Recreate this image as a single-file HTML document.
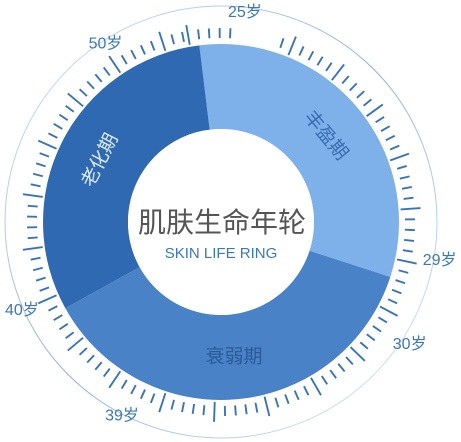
<!DOCTYPE html>
<html><head><meta charset="utf-8">
<style>
html,body{margin:0;padding:0;background:#fff;width:461px;height:442px;overflow:hidden}
svg{display:block}
text{font-family:"Liberation Sans","Noto Sans CJK SC",sans-serif}
</style></head><body>
<svg id="chart" width="461" height="442" viewBox="0 0 461 442">
<defs>
<linearGradient id="arcg" x1="0" y1="0" x2="1" y2="1">
<stop offset="0" stop-color="#c9dcf2"/><stop offset="0.5" stop-color="#5a8fd0"/><stop offset="1" stop-color="#dbe8f7"/>
</linearGradient>
</defs>
<circle cx="221" cy="222" r="216" fill="none" stroke="url(#arcg)" stroke-width="1" opacity="0.7"/>
<g id="ticks"></g>
<g id="segs"></g>
<circle cx="221" cy="222" r="93" fill="#fff"/>
<text x="222" y="232" text-anchor="middle" font-size="28" fill="#555">肌肤生命年轮</text>
<text x="221" y="258" text-anchor="middle" font-size="15" fill="#3a78b8">SKIN LIFE RING</text>
<g id="labels"></g>
</svg>
<script>
const segNames = ["丰盈期","衰弱期","老化期"];
const segSpans = [115, 133, 112];
const segStart = -7;
const segColors = ["#7eb0ea","#4a82c7","#2e69b1"];
const segTextColors = ["#3a6db0","#2a5a9a","#dde9f8"];
const ageLabels = ["25岁","29岁","30岁","39岁","40岁","50岁"];
const ageAngles = [6.5, 100, 123, 207, 246, 327];
const labelRadius = [211, 222, 225, 218, 218, 212];

const cx=221, cy=222, R=178, r=93;
const NS="http://www.w3.org/2000/svg";
function pt(a, rad){const t=a*Math.PI/180;return [cx+rad*Math.sin(t), cy-rad*Math.cos(t)];}

const segG=document.getElementById('segs');
let a0=segStart;
segSpans.forEach((s,i)=>{
  const a1=a0+s;
  const [x1,y1]=pt(a0,R),[x2,y2]=pt(a1,R),[x3,y3]=pt(a1,r),[x4,y4]=pt(a0,r);
  const lg=s>180?1:0;
  const p=document.createElementNS(NS,'path');
  p.setAttribute('d',`M${x1},${y1}A${R},${R} 0 ${lg} 1 ${x2},${y2}L${x3},${y3}A${r},${r} 0 ${lg} 0 ${x4},${y4}Z`);
  p.setAttribute('fill',segColors[i]);
  
  
  segG.appendChild(p);
  const mid=(a0+a1)/2;
  const [tx,ty]=pt(mid,(R+r)/2);
  let rr = mid;
  if(rr>180) rr-=360;
  if(rr>90||rr<-90) rr=0;
  const t=document.createElementNS(NS,'text');
  t.setAttribute('x',tx);t.setAttribute('y',ty);
  t.setAttribute('text-anchor','middle');t.setAttribute('dominant-baseline','central');
  t.setAttribute('font-size','19');t.setAttribute('fill',segTextColors[i]);
  t.setAttribute('transform',`rotate(${rr} ${tx} ${ty})`);
  t.textContent=segNames[i];
  
  
  segG.appendChild(t);
  a0=a1;
});

const tg=document.getElementById('ticks');
let k=0;
for(let a=-10;a<350;a+=3.2,k++){
  if(a>3&&a<16) continue;
  const long=(k%5===0);
  const [x1,y1]=pt(a,long?180:184),[x2,y2]=pt(a,long?200:194);
  const l=document.createElementNS(NS,'line');
  l.setAttribute('x1',x1);l.setAttribute('y1',y1);l.setAttribute('x2',x2);l.setAttribute('y2',y2);
  l.setAttribute('stroke','#3a74b8');l.setAttribute('stroke-width','1.9');
  
  
  tg.appendChild(l);
}

const lg2=document.getElementById('labels');
ageLabels.forEach((s,i)=>{
  const [x,y]=pt(ageAngles[i],labelRadius[i]);
  const t=document.createElementNS(NS,'text');
  t.setAttribute('x',x);t.setAttribute('y',y);
  t.setAttribute('text-anchor','middle');t.setAttribute('dominant-baseline','central');
  t.setAttribute('font-size','16');t.setAttribute('fill','#3a78b8');
  t.textContent=s;
  
  
  lg2.appendChild(t);
});
</script>
</body></html>
